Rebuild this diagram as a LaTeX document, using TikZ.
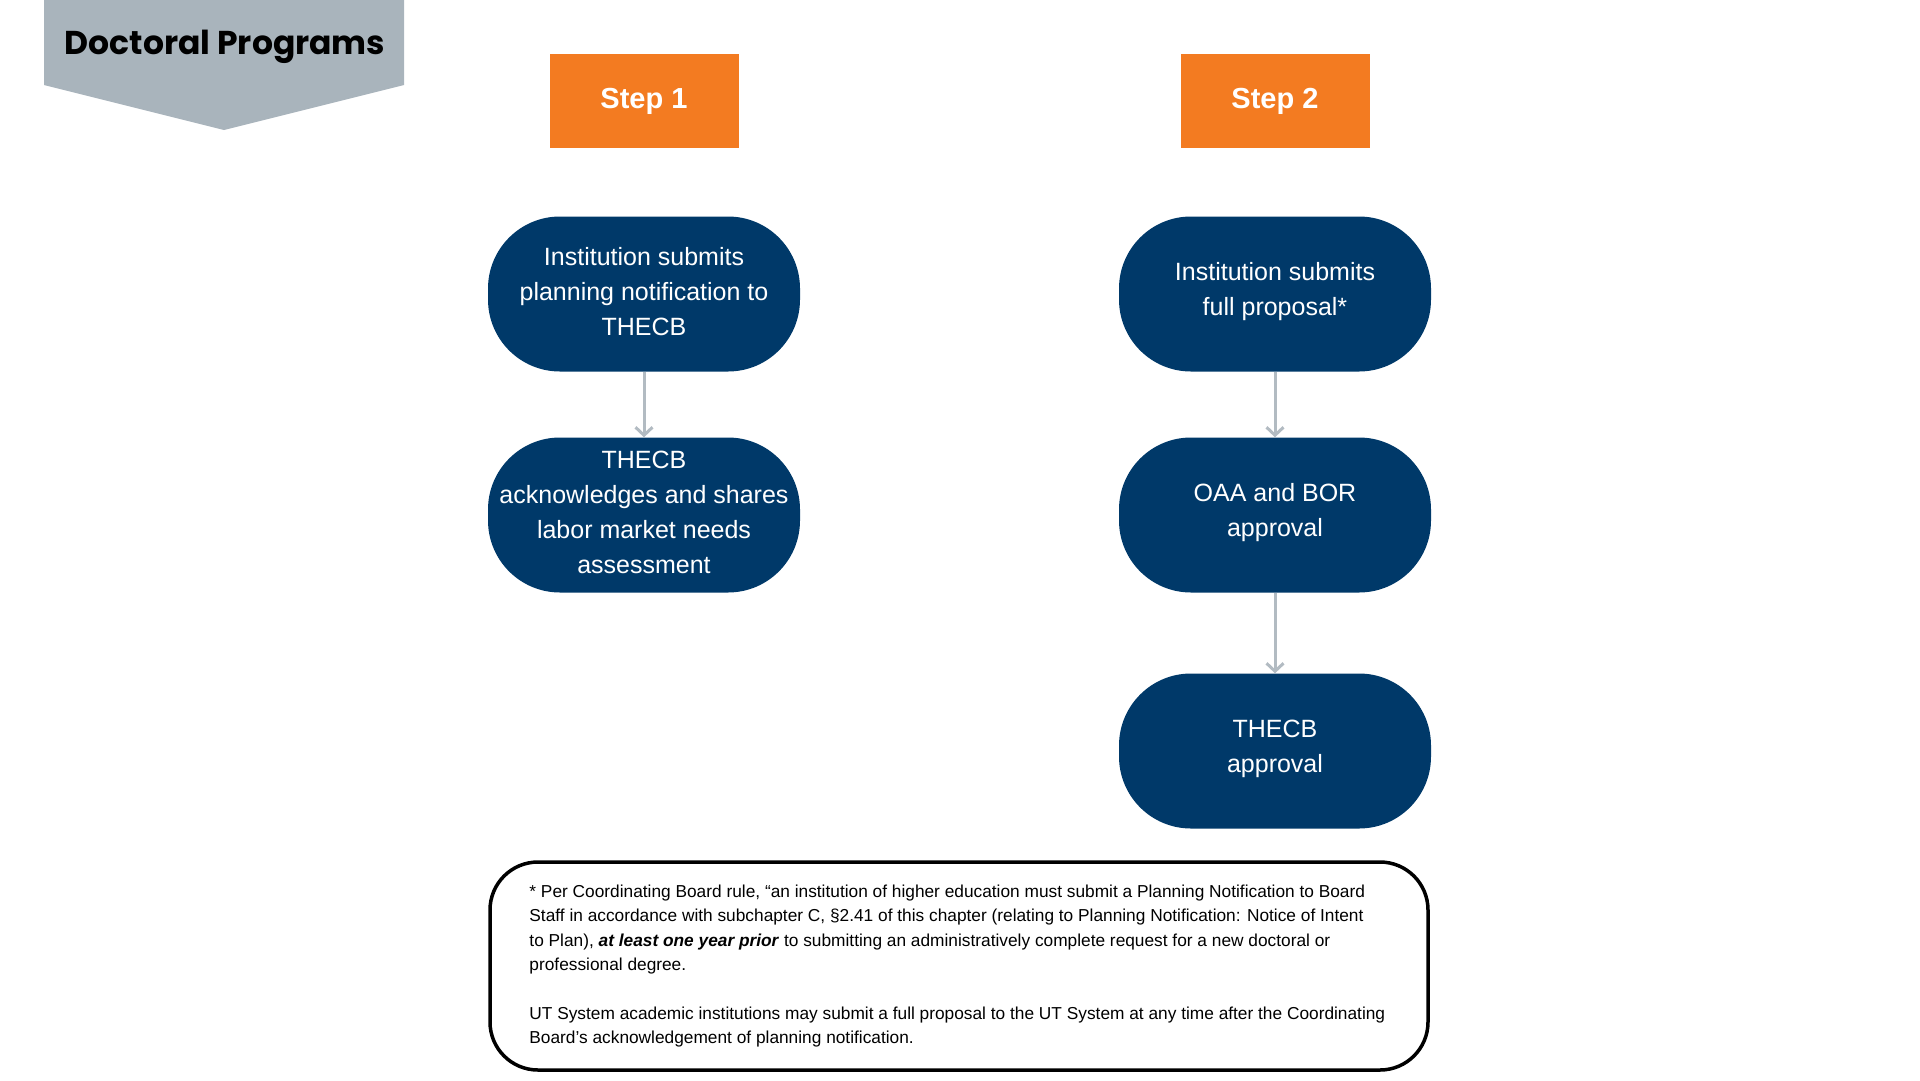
\documentclass[tikz,border=0pt]{standalone}
\usepackage{fontspec}
\setmainfont{Liberation Sans}
\newfontfamily\bannerfont{Poppins}
\usepackage{tikz}
\usetikzlibrary{shapes,backgrounds,arrows.meta}

\definecolor{utnavy}{RGB}{0,57,105}
\definecolor{utorange}{RGB}{243,123,33}
\definecolor{utgray}{RGB}{169,180,188}
\definecolor{flowgray}{RGB}{178,187,194}

\tikzset{
  stepbox/.style={fill=utorange,text=white,font=\fontsize{29}{35}\selectfont\bfseries,
    minimum width=189pt,minimum height=94pt,inner sep=0pt},
  stadium/.style={fill=utnavy,text=white,rounded corners=72pt,minimum width=312pt,
    minimum height=155pt,align=center,inner sep=0pt,font=\fontsize{25}{35}\selectfont},
  flow/.style={draw=flowgray,line width=3pt,-{Straight Barb[length=8pt,width=17pt,line width=3pt]}},
  notebox/.style={draw=black,line width=3.5pt,rounded corners=48pt,minimum width=938pt,minimum height=208pt},
}

\begin{document}
\begin{tikzpicture}[x=1pt,y=-1pt]
            \useasboundingbox (0,0) rectangle (1920,1080);
            % \draw[step=100,color=gray!40] (0,0) grid (1920,1080);
            \fill[utgray] (44,0) -- (404,0) -- (404,85) -- (224,130) -- (44,85) -- cycle;
            \node[name=banner,anchor=base,font=\bannerfont\bfseries\fontsize{33}{40}\selectfont] at (225,54) {Doctoral Programs};
            \foreach \x/\name/\num in {644/stepA/1,1275/stepB/2}{
                \node[stepbox,name=\name] at (\x,101) {Step \num};
            }
            \foreach \x/\y/\name/\txt in {644/294/planA/{Institution submits\\planning notification to\\THECB},
                644/515/ackA/{THECB\\acknowledges and shares\\labor market needs\\assessment},
                1275/294/propB/{Institution submits\\full proposal*},
                1275/515/oaaB/{OAA and BOR\\approval},
                1275/751/thecbB/{THECB\\approval}}{
                \node[stadium,name=\name] at (\x,\y) {\raisebox{2.5pt}[\height][\depth]{\parbox{300pt}{\centering\txt}}};
            }
            \foreach \from/\to in {planA/ackA,propB/oaaB,oaaB/thecbB} {
                \draw[flow] (\from)--(\to) ;
            }
            \node[notebox,name=note] at (959,966) {};
            \node[name=notetext,anchor=west,align=left,inner sep=0pt,font=\fontsize{17.3}{24.3}\selectfont]
                at ([xshift=41pt]note.west) {* Per Coordinating Board rule, “an institution of higher education must submit a Planning Notification to Board\\
                Staff in accordance with subchapter C, §2.41 of this chapter (relating to Planning Notification: Notice of Intent\\
                to Plan), \textbf{\textit{at least one year prior}} to submitting an administratively complete request for a new doctoral or\\
                professional degree.\\[24.3pt]
                UT System academic institutions may submit a full proposal to the UT System at any time after the Coordinating\\
                Board’s acknowledgement of planning notification.};
        \end{tikzpicture}
\end{document}
